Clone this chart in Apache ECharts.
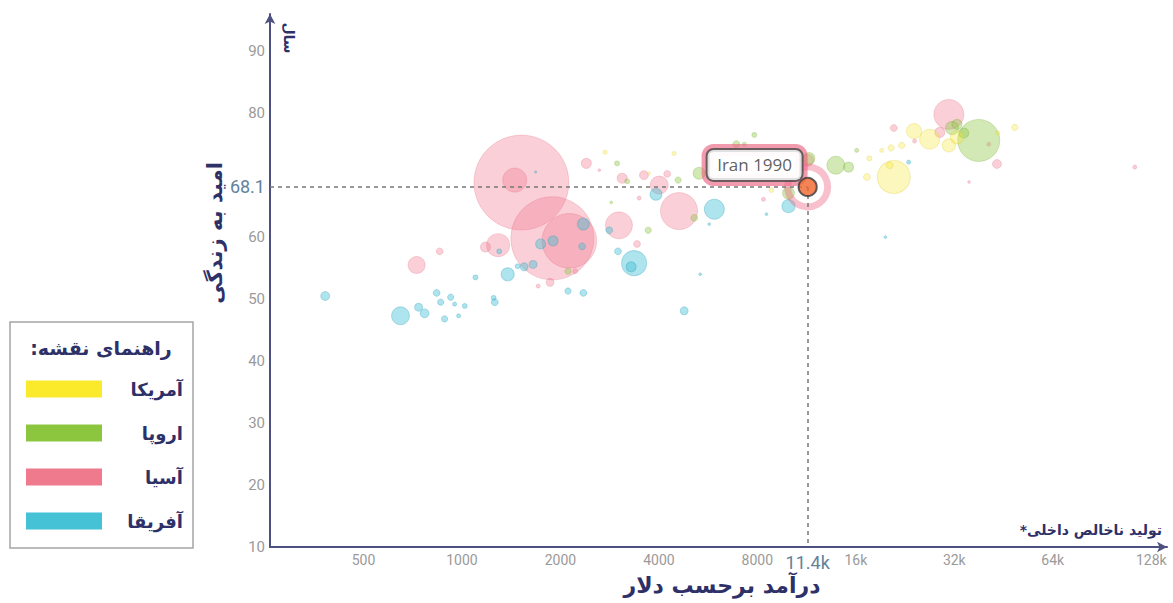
<!DOCTYPE html>
<html><head><meta charset="utf-8">
<script src="https://cdn.jsdelivr.net/npm/echarts@6/dist/echarts.min.js"></script>
<style>html,body{margin:0;padding:0;background:#fff}#c{width:1173px;height:603px}</style>
</head><body><div id="c"></div>
<script>
// [gdp per capita ($), life expectancy (years), population (millions)]
var asia = [
  [1520,68.8,1150],[1450,69.2,74],[1890,59.8,880],[2130,59.4,380],[2400,71.9,13],
  [3090,69.5,13],[3600,70.0,10],[4240,70.2,6],[4010,68.4,41],[3480,66.3,2],
  [3020,61.9,93],[3430,58.9,6],[1290,58.7,68],[1180,58.4,13],[855,57.7,6],
  [727,55.5,37],[4610,64.2,175],[2220,54.5,3],[1860,52.7,8],[1710,52.1,2],
  [2630,70.8,1],[8350,66.1,2],[30800,79.8,115],[28900,76.9,13],[43200,71.8,10],
  [40800,75.0,2],[24200,75.5,2],[35500,68.9,1],[114000,71.3,2],[20900,77.6,6],
  [11400,72.4,18]
];
var europe = [
  [38000,75.6,225],[31500,77.6,22],[32600,78.2,13],[13900,71.6,41],[15200,71.3,13],
  [11500,72.7,18],[9960,67.1,18],[5310,70.3,18],[6900,75.0,6],[7830,76.5,3],
  [7300,75.0,2],[4580,69.2,5],[5130,63.1,6],[2980,71.9,3],[3200,69.0,3],
  [3710,61.1,5],[2860,65.6,1],[2110,54.5,5],[16100,74.0,2],[34200,76.8,13]
];
var americas = [
  [20900,69.7,139],[26900,75.8,51],[24100,77.1,29],[32600,76.1,22],[30800,74.8,22],
  [20300,71.6,6],[17300,69.7,6],[17600,72.7,3],[20500,74.4,5],[22100,74.8,5],
  [19200,74.0,2],[49000,77.7,5],[43500,76.8,2],[2740,73.7,2],[4450,73.5,2],
  [8830,67.6,3],[3730,70.3,1]
];
var africa = [
  [3920,66.9,18],[5910,64.5,51],[2820,61.1,6],[2350,62.1,18],[1740,58.9,13],
  [1900,59.4,13],[2330,58.5,6],[1300,57.7,3],[3000,57.7,6],[3360,55.8,80],
  [3290,55.2,13],[1380,54.0,22],[1550,55.2,8],[1650,55.6,8],[1480,55.3,3],
  [1100,53.5,3],[2110,51.3,5],[2350,51.0,6],[837,51.0,6],[924,50.3,5],
  [1250,50.2,3],[1260,49.5,6],[382,50.5,10],[649,47.3,41],[737,48.7,8],
  [769,47.7,10],[861,49.5,5],[950,49.2,2],[1020,48.9,3],[885,46.8,5],
  [977,47.3,2],[4780,48.1,8],[5350,54.0,1],[9960,65.0,22],[23200,72.1,2],
  [19700,60.0,1],[8530,63.7,1],[5700,62.1,1],[1680,70.5,0.5]
];
var iran = [[11400,68.1,42]];
var iranLabel = 'Iran 1990';

var xTicks = [500,1000,2000,4000,8000,11400,16000,32000,64000,128000];
var yTicks = [10,20,30,40,50,60,68.1,80,90];

var regionNames = ['آمریکا','اروپا','آسیا','آفریقا'];
var regionColors = ['#fbea2c','#8cc63f','#ef7a8d','#45c2d6'];
var fills = ['rgba(246,230,55,0.42)','rgba(140,198,63,0.48)','rgba(240,122,144,0.45)','rgba(60,190,212,0.52)'];
var strokes = ['rgba(220,200,30,0.35)','rgba(110,170,40,0.35)','rgba(220,95,120,0.3)','rgba(40,160,185,0.4)'];

var navy = '#2e3068';
var axisCol = '#4d5080';
var fa = '"DejaVu Sans", sans-serif';
var num = '"Liberation Sans Narrow", "Roboto", sans-serif';

function size(d){ return 2.8*Math.sqrt(d[2]); }

var chart = echarts.init(document.getElementById('c'), null, {renderer:'svg'});

function region(i, data){
  return {
    name: regionNames[i], type:'scatter', data: data, symbolSize: size,
    itemStyle:{color: fills[i], borderColor: strokes[i], borderWidth:1},
    emphasis:{disabled:true}, silent:true
  };
}

var boxRich = {width:80, height:20, align:'center', fontSize:17, fontFamily:'"Open Sans", sans-serif', color:'#333'};
function iranBox(text, border, bw){
  return {show:true, formatter:text, position:'left', distance:0, offset:[4,-22],
    backgroundColor:'#ffffff', borderColor:border, borderWidth:bw, borderRadius:6,
    padding:[5,7,5,7], rich:{t:boxRich}};
}

var option = {
  animation:false,
  grid:{left:270, right:6, top:14, bottom:56},
  xAxis:{
    type:'log', logBase:2, min:259, max:143000,
    splitLine:{show:false}, axisTick:{show:false},
    axisLine:{lineStyle:{color:axisCol, width:2}, symbol:['none','arrow'], symbolSize:[8,10]},
    axisLabel:{
      customValues: xTicks, margin:6, color:'#9a9a9a', fontSize:14, fontFamily:num,
      formatter:function(v){ if (Math.abs(v-11400)<1) return '{hl|11.4k}'; return v>=16000 ? (v/1000)+'k' : String(v); },
      rich:{hl:{color:'#62839a', fontSize:18, fontFamily:num}}
    }
  },
  yAxis:{
    type:'value', min:10, max:96, interval:10,
    splitLine:{show:false}, axisTick:{show:false},
    axisLine:{lineStyle:{color:axisCol, width:2}, symbol:['none','arrow'], symbolSize:[8,10]},
    axisLabel:{
      customValues: yTicks, margin:5, color:'#9a9a9a', fontSize:15, fontFamily:num,
      formatter:function(v){ if (Math.abs(v-68.1)<0.01) return '{hl|68.1}'; return String(v); },
      rich:{hl:{color:'#62839a', fontSize:18, fontFamily:num}}
    }
  },
  legend:{
    orient:'vertical', left:21, top:375, itemWidth:76, itemHeight:17, itemGap:26,
    icon:'rect', selectedMode:false,
    data: regionNames.map(function(n,i){ return {name:n, icon:'rect', itemStyle:{color:regionColors[i], borderWidth:0, opacity:1}}; }),
    formatter:function(n){ return '{a|'+n+'}'; },
    textStyle:{color:navy, fontSize:18, fontWeight:'bold', fontFamily:fa, lineHeight:17,
      rich:{a:{width:76, align:'right', color:navy, fontSize:18, fontWeight:'bold', fontFamily:fa}}}
  },
  series:[
    region(2, asia), region(1, europe), region(0, americas), region(3, africa),
    {
      name:'halo', type:'scatter', data: iran, symbolSize:40, silent:true, z:3,
      itemStyle:{color:'rgba(255,255,255,0)', borderColor:'rgba(236,98,128,0.5)', borderWidth:7},
      markLine:{
        silent:true, symbol:'none', label:{show:false},
        lineStyle:{type:[4,4], color:'#777', width:1.5},
        data:[
          [{coord:[259, iran[0][1]]},{coord:[iran[0][0], iran[0][1]]}],
          [{coord:[iran[0][0], iran[0][1]]},{coord:[iran[0][0], 10]}]
        ]
      }
    },
    {
      name:'frame', type:'scatter', data: iran, symbolSize:size, silent:true, z:4,
      itemStyle:{color:'rgba(0,0,0,0)', borderColor:'rgba(0,0,0,0)', borderWidth:2},
      label: iranBox('{t|}', 'rgba(236,98,128,0.8)', 6)
    },
    {
      name:'iran', type:'scatter', data: iran, symbolSize:size, silent:true, z:5,
      itemStyle:{color:'#f0652c', borderColor:'#3a3a3a', borderWidth:2},
      label: iranBox('{t|' + iranLabel + '}', '#4a4a4a', 2)
    }
  ],
  graphic:[
    {type:'text', x:215, y:233, rotation:Math.PI/2, silent:true,
      style:{text:'امید به زندگی', fill:navy, font:'bold 21px '+fa, align:'center', verticalAlign:'middle'}},
    {type:'text', x:722, y:585, silent:true,
      style:{text:'درآمد برحسب دلار', fill:navy, font:'bold 22px '+fa, align:'center', verticalAlign:'middle'}},
    {type:'text', x:1162, y:530, silent:true,
      style:{text:'تولید ناخالص داخلی*\u200F', fill:navy, font:'bold 14px '+fa, align:'right', verticalAlign:'middle'}},
    {type:'text', x:289, y:38, rotation:-Math.PI/2, silent:true,
      style:{text:'سال', fill:navy, font:'bold 14px '+fa, align:'center', verticalAlign:'middle'}},
    {type:'rect', shape:{x:10, y:322, width:183, height:226}, silent:true,
      style:{fill:'none', stroke:'#a5a5a5', lineWidth:1.5}},
    {type:'text', x:101, y:348, silent:true,
      style:{text:'راهنمای نقشه:\u200F', fill:navy, font:'bold 19px '+fa, align:'center', verticalAlign:'middle'}}
  ]
};
chart.setOption(option);
</script>
</body></html>
